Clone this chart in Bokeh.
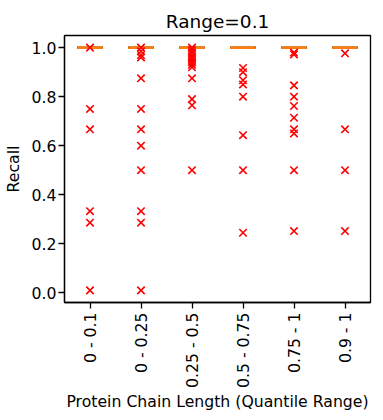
from bokeh.plotting import figure
from bokeh.models import Range1d, FixedTicker
from bokeh.embed import file_html
from bokeh.resources import INLINE
import numpy as np

categories = ["0 - 0.1", "0 - 0.25", "0.25 - 0.5", "0.5 - 0.75", "0.75 - 1", "0.9 - 1"]
medians = [1.0, 1.0, 1.0, 1.0, 1.0, 1.0]
q1 = [1.0, 1.0, 1.0, 1.0, 1.0, 1.0]
q3 = [1.0, 1.0, 1.0, 1.0, 1.0, 1.0]
fliers_1 = [1.0, 0.75, 0.667, 0.333, 0.286, 0.01]
fliers_2 = [1.0, 0.985, 0.97, 0.96, 0.875, 0.75, 0.667, 0.6, 0.5, 0.333, 0.286, 0.01]
fliers_3 = [1.0, 0.99, 0.98, 0.97, 0.96, 0.95, 0.94, 0.93, 0.92, 0.875, 0.79, 0.765, 0.5]
fliers_4 = [0.917, 0.9, 0.867, 0.85, 0.8, 0.643, 0.5, 0.245]
fliers_5 = [0.98, 0.972, 0.846, 0.8, 0.762, 0.714, 0.667, 0.65, 0.5, 0.252]
fliers_6 = [0.977, 0.667, 0.5, 0.252]
y_ticks = [0.0, 0.2, 0.4, 0.6, 0.8, 1.0]

FONT = "DejaVu Sans"

xs = np.arange(1, len(categories) + 1)
all_fliers = [fliers_1, fliers_2, fliers_3, fliers_4, fliers_5, fliers_6]
fx = [xs[i] for i, fl in enumerate(all_fliers) for _ in fl]
fy = [v for fl in all_fliers for v in fl]

p = figure(frame_width=306, frame_height=267, output_backend="svg", toolbar_location=None,
           x_range=Range1d(0.5, 6.5), y_range=Range1d(-0.0395, 1.0495),
           min_border_left=57, min_border_right=3, min_border_top=35, min_border_bottom=106)
p.title.text = "Range=0.1"
p.title.align = "center"
p.title.text_font = FONT
p.title.text_font_size = "18.5px"
p.title.text_font_style = "normal"
p.title.text_color = "black"
p.title.standoff = 8

p.xgrid.visible = False
p.ygrid.visible = False
p.outline_line_color = "black"
p.outline_line_width = 1.3
p.background_fill_color = "white"

for ax in (p.xaxis[0], p.yaxis[0]):
    ax.major_label_text_font = FONT
    ax.major_label_text_font_size = "15.7px"
    ax.axis_label_text_font = FONT
    ax.axis_label_text_font_size = "15.7px"
    ax.axis_label_text_font_style = "normal"
    ax.major_tick_out = 6
    ax.major_tick_in = 0
    ax.minor_tick_out = 0
    ax.minor_tick_in = 0
    ax.major_tick_line_width = 1.3
    ax.axis_line_width = 1.3
    ax.major_label_text_color = "black"
    ax.axis_label_text_color = "black"

p.yaxis.ticker = FixedTicker(ticks=y_ticks)
p.yaxis.major_label_overrides = {t: f"{t:.1f}" for t in y_ticks}
p.yaxis.axis_label = "Recall"
p.yaxis.major_label_standoff = 2
p.yaxis.axis_label_standoff = 6

p.xaxis.ticker = FixedTicker(ticks=list(xs))
p.xaxis.major_label_overrides = {int(x): c for x, c in zip(xs, categories)}
p.xaxis.major_label_orientation = np.pi / 2
p.xaxis.axis_label = "Protein Chain Length (Quantile Range)"
p.xaxis.major_label_standoff = 4
p.xaxis.axis_label_standoff = 1

# box (collapsed) and caps
p.segment(x0=xs - 0.25, x1=xs + 0.25, y0=q1, y1=q1, line_color="black", line_width=1.6)
p.segment(x0=xs - 0.25, x1=xs + 0.25, y0=q3, y1=q3, line_color="black", line_width=1.6)
# medians
p.segment(x0=xs - 0.25, x1=xs + 0.25, y0=medians, y1=medians, line_color="#ff7f0e", line_width=2.6)
# fliers
p.scatter(fx, fy, marker="x", size=10.5, line_color="red", line_width=1.6)

open("out.html", "w").write(file_html(p, INLINE))
